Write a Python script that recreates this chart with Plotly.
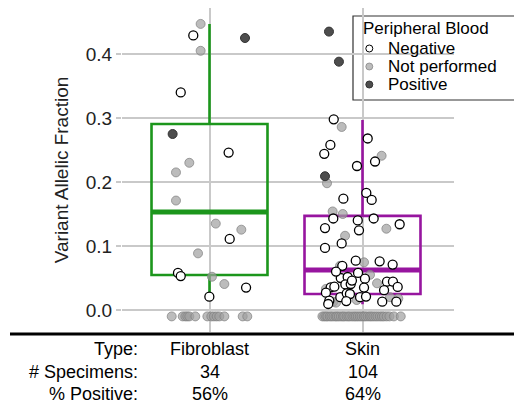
import plotly.graph_objects as go

# ---------------- data ----------------
categories = ["Fibroblast", "Skin"]
cat_pos = [1, 2]
n_specimens = ["34", "104"]
pct_positive = ["56%", "64%"]

status_names = {"N": "Negative", "U": "Not performed", "P": "Positive"}

# Fibroblast: nonzero specimens (jitter offset, VAF, blood status)
fib_jitter = [-0.058, -0.106, 0.232, -0.058, -0.188, -0.241, 0.125, -0.132, -0.219, -0.219,
              0.041, 0.208, 0.132, -0.075, -0.206, -0.188, 0.016, 0.097, 0.239, -0.001]
fib_vaf = [0.447, 0.429, 0.425, 0.405, 0.340, 0.275, 0.246, 0.230, 0.215, 0.171,
           0.135, 0.1255, 0.111, 0.0885, 0.058, 0.053, 0.052, 0.0406, 0.035, 0.0208]
fib_status = ["U", "N", "P", "U", "N", "P", "N", "U", "U", "U",
              "U", "U", "N", "U", "N", "N", "U", "U", "N", "N"]
# Fibroblast: VAF = 0 specimens (not performed)
fib_zero_jitter = [-0.247, -0.175, -0.158, -0.145, -0.132, -0.093, -0.014, 0.012, 0.029,
                   0.047, 0.064, 0.097, 0.217, 0.247]

# Skin: nonzero specimens
skin_jitter = [-0.219, -0.154, -0.188, -0.136, 0.034, -0.210, -0.250, 0.125, 0.082, -0.036,
               -0.245, -0.232, 0.025, -0.125, 0.060, -0.195, -0.129, -0.191, -0.031, 0.073,
               0.243, -0.245, -0.023, 0.156, -0.114, -0.136, -0.245, -0.044, 0.010, 0.112,
               0.197, -0.147, -0.132, -0.029, -0.142, -0.097, 0.016, 0.095, 0.160, 0.199,
               -0.112, 0.230, -0.239, -0.208, -0.184, 0.010, -0.077, -0.239, -0.145, -0.103,
               -0.082, -0.191, -0.217, -0.224, -0.173, -0.106, -0.038, -0.016, 0.023, 0.129,
               0.180, 0.234, 0.221, -0.069, 0.049, -0.173, 0.141]
skin_vaf = [0.435, 0.388, 0.298, 0.286, 0.268, 0.258, 0.244, 0.241, 0.232, 0.225,
            0.209, 0.198, 0.183, 0.174, 0.172, 0.154, 0.150, 0.143, 0.140, 0.143,
            0.134, 0.128, 0.1245, 0.127, 0.116, 0.104, 0.097, 0.077, 0.0745, 0.076,
            0.071, 0.069, 0.069, 0.058, 0.050, 0.0516, 0.049, 0.0417, 0.0443, 0.0443,
            0.040, 0.036, 0.033, 0.0354, 0.0365, 0.035, 0.0406, 0.027, 0.020, 0.026,
            0.025, 0.013, 0.0146, 0.0094, 0.0115, 0.014, 0.0156, 0.020, 0.021, 0.013,
            0.020, 0.018, 0.013, 0.046, 0.055, 0.060, 0.031]
skin_status = ["P", "P", "N", "U", "N", "N", "N", "U", "N", "N",
               "P", "U", "N", "N", "N", "U", "U", "N", "N", "N",
               "N", "N", "N", "U", "U", "N", "N", "N", "U", "N",
               "N", "U", "N", "N", "N", "N", "N", "U", "N", "N",
               "N", "N", "U", "N", "N", "N", "N", "N", "N", "N",
               "N", "U", "N", "N", "U", "N", "U", "N", "N", "N",
               "U", "U", "N", "N", "U", "N", "N"]
skin_zero_jitter = [-0.262, -0.250, -0.238, -0.229, -0.214, -0.203, -0.190, -0.176, -0.167,
                    -0.155, -0.141, -0.128, -0.119, -0.104, -0.092, -0.081, -0.066, -0.054,
                    -0.043, -0.031, -0.018, -0.006, 0.008, 0.019, 0.033, 0.047, 0.058,
                    0.071, 0.085, 0.098, 0.113, 0.127, 0.140, 0.158, 0.176, 0.205, 0.250]

# Box statistics (computed on nonzero specimens)
box_q1 = [0.0547, 0.025]
box_median = [0.153, 0.0625]
box_q3 = [0.2906, 0.147]
box_low = [0.0208, 0.009]
box_high = [0.447, 0.297]

# ---------------- style ----------------
W, H = 514, 404
ML, MR, MT, MB = 122, 60, 8, 72
PLOT_W = W - ML - MR
PLOT_H = H - MT - MB
FONT = "Liberation Sans, Arial, sans-serif"
GRID = "#c9c9c9"
box_colors = ["#1c961c", "#97159f"]
BOX_W = 0.758
ZERO_ROW_Y = -0.01
FS = 19      # axis font size
TFS = 18     # table font size
LFS = 17     # legend font size

marker_style = {
    "N": dict(color="white", line=dict(color="black", width=1.3)),
    "U": dict(color="rgba(160,160,160,0.7)", line=dict(color="rgba(125,125,125,0.7)", width=1)),
    "P": dict(color="#4d4d4d", line=dict(color="#333333", width=1)),
}


def px_x(p):  # pixel -> paper x
    return (p - ML) / PLOT_W


def px_y(p):  # pixel -> paper y
    return (H - MB - p) / PLOT_H


fig = go.Figure()

# boxes
for i in range(2):
    fig.add_trace(go.Box(
        x=[cat_pos[i]], q1=[box_q1[i]], median=[box_median[i]], q3=[box_q3[i]],
        lowerfence=[box_low[i]], upperfence=[box_high[i]],
        width=BOX_W, boxpoints=False, whiskerwidth=0,
        line=dict(color=box_colors[i], width=2.6),
        fillcolor="rgba(0,0,0,0)", showlegend=False, hoverinfo="skip",
    ))
    fig.add_trace(go.Scatter(
        x=[cat_pos[i] - BOX_W / 2, cat_pos[i] + BOX_W / 2],
        y=[box_median[i], box_median[i]], mode="lines",
        line=dict(color=box_colors[i], width=5), showlegend=False, hoverinfo="skip",
    ))

# points
groups = [
    (cat_pos[0], fib_jitter, fib_vaf, fib_status, fib_zero_jitter),
    (cat_pos[1], skin_jitter, skin_vaf, skin_status, skin_zero_jitter),
]
for code in ["U", "P", "N"]:
    xs, ys = [], []
    for c, jit, vaf, st, zj in groups:
        for j, v, s in zip(jit, vaf, st):
            if s == code:
                xs.append(c + j)
                ys.append(v)
        if code == "U":
            for j in zj:
                xs.append(c + j)
                ys.append(ZERO_ROW_Y)
    fig.add_trace(go.Scatter(
        x=xs, y=ys, mode="markers", name=status_names[code],
        marker=dict(size=9, **marker_style[code]), showlegend=False,
        cliponaxis=False,
    ))

# manual legend markers (overlay axes in plot fractions)
leg_codes = ["N", "U", "P"]
leg_y_px = [48.5, 66.5, 84.5]
fig.add_trace(go.Scatter(
    x=[px_x(369.3)] * 3, y=[px_y(p) for p in leg_y_px], mode="markers",
    xaxis="x2", yaxis="y2", showlegend=False, hoverinfo="skip",
    marker=dict(size=7,
                color=[marker_style[c]["color"] for c in leg_codes],
                line=dict(color=[marker_style[c]["line"]["color"] for c in leg_codes], width=1)),
))

shapes = [
    # legend box
    dict(type="rect", xref="paper", yref="paper", x0=px_x(353), x1=px_x(540),
         y0=px_y(100), y1=px_y(16), line=dict(color="#333333", width=1.2),
         fillcolor="white", layer="between"),
    # black separator line
    dict(type="line", xref="paper", yref="paper", x0=px_x(10), x1=px_x(520),
         y0=px_y(334), y1=px_y(334), line=dict(color="black", width=3)),
]

annotations = [
    dict(text="Peripheral Blood", xref="paper", yref="paper", x=px_x(361), y=px_y(28.5),
         xanchor="left", yanchor="middle", showarrow=False, font=dict(size=LFS, color="black")),
]
for c, yp in zip(leg_codes, leg_y_px):
    annotations.append(dict(text=status_names[c], xref="paper", yref="paper", x=px_x(386),
                            y=px_y(yp), xanchor="left", yanchor="middle", showarrow=False,
                            font=dict(size=LFS, color="black")))

row_labels = ["Type:", "# Specimens:", "% Positive:"]
row_values = [categories, n_specimens, pct_positive]
row_y_px = [349.5, 372, 393.5]
for lab, vals, yp in zip(row_labels, row_values, row_y_px):
    annotations.append(dict(text=lab, xref="paper", yref="paper", x=px_x(140), y=px_y(yp),
                            xanchor="right", yanchor="middle", showarrow=False,
                            font=dict(size=TFS, color="black")))
    for c, v in zip(cat_pos, vals):
        annotations.append(dict(text=v, xref="x", yref="paper", x=c, y=px_y(yp),
                                xanchor="center", yanchor="middle", showarrow=False,
                                font=dict(size=TFS, color="black")))

x_lo = 1 + (ML - 209.5) / 153
x_hi = 1 + (W - MR - 209.5) / 153

fig.update_layout(
    width=W, height=H, margin=dict(l=ML, r=MR, t=MT, b=MB),
    paper_bgcolor="white", plot_bgcolor="white",
    font=dict(family=FONT, size=FS, color="#222222"),
    showlegend=False,
    xaxis=dict(range=[x_lo, x_hi], tickvals=cat_pos, showticklabels=False,
               showgrid=True, gridcolor=GRID, gridwidth=1.5, zeroline=False,
               ticks="", showline=False, fixedrange=True),
    yaxis=dict(range=[(310 - (H - MB)) / 640, (310 - MT) / 640],
               tickvals=[0, 0.1, 0.2, 0.3, 0.4], tickformat=".1f",
               showgrid=True, gridcolor=GRID, gridwidth=1.5, zeroline=False,
               ticks="outside", ticklen=5, tickcolor=GRID, tickwidth=1.5,
               showline=False,
               title=dict(text="Variant Allelic Fraction", standoff=12,
                          font=dict(size=FS, color="#222222")),
               tickfont=dict(size=FS, color="#222222")),
    xaxis2=dict(overlaying="x", range=[0, 1], visible=False, fixedrange=True),
    yaxis2=dict(overlaying="y", range=[0, 1], visible=False, fixedrange=True),
    shapes=shapes, annotations=annotations,
)

fig.write_html("out.html")
